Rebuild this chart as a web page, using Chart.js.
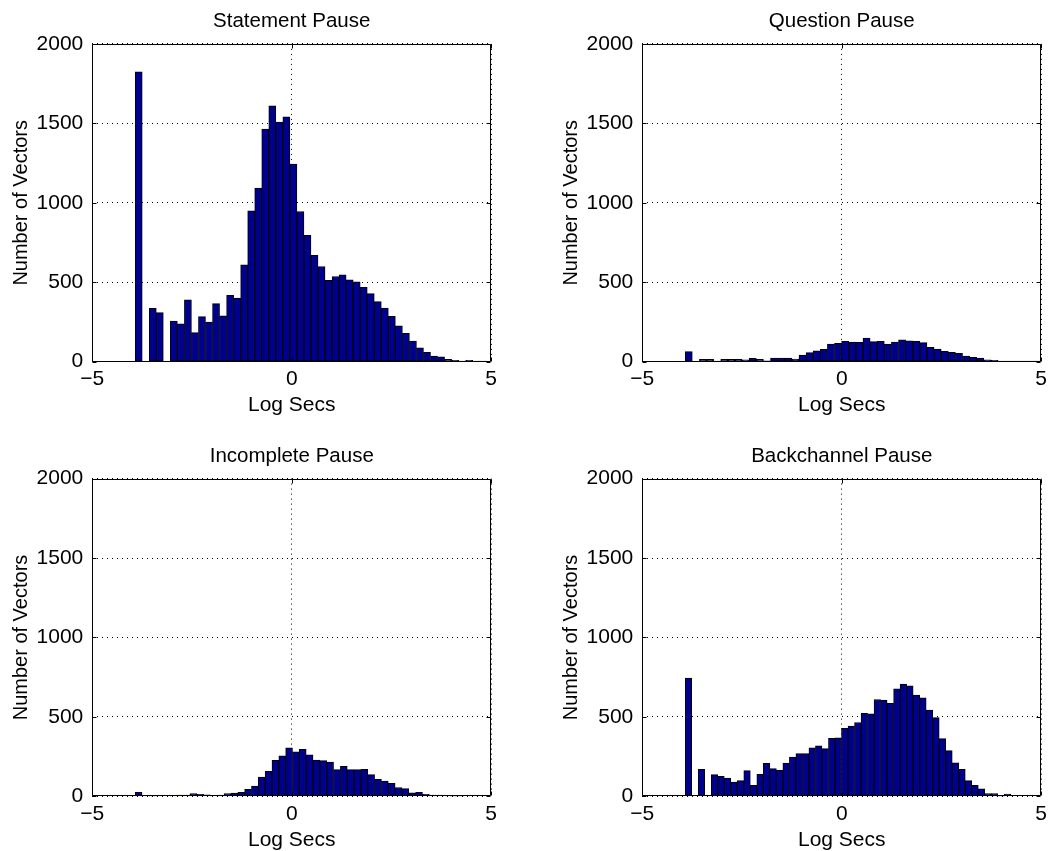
<!DOCTYPE html>
<html><head><meta charset="utf-8">
<script src="https://cdn.jsdelivr.net/npm/chart.js@4.4.1/dist/chart.umd.min.js"></script>
<style>
html,body{margin:0;padding:0;background:#fff;overflow:hidden;width:1052px;height:851px;}
canvas.cv{position:absolute;}
</style></head><body>
<canvas id="c0" class="cv" width="502" height="420" style="left:0px;top:0px"></canvas>
<canvas id="c1" class="cv" width="502" height="420" style="left:550px;top:0px"></canvas>
<canvas id="c2" class="cv" width="502" height="420" style="left:0px;top:435px"></canvas>
<canvas id="c3" class="cv" width="502" height="420" style="left:550px;top:435px"></canvas>
<script>
// ---- data ----
const panelTitles = ['Statement Pause', 'Question Pause', 'Incomplete Pause', 'Backchannel Pause'];
const xAxisTitle = 'Log Secs';
const yAxisTitle = 'Number of Vectors';
const xTickValues = [-5, 0, 5];
const yTickValues = [0, 500, 1000, 1500, 2000];
const binLeftEdge = -3.925;           // left edge of first bin (Log Secs)
const binWidths = [0.1763, 0.1783, 0.1715, 0.1633]; // per panel bin width
const statementCounts = [1825, 0, 336, 309, 0, 256, 239, 389, 183, 284, 250, 365, 288, 418, 401, 609, 949, 1092, 1464, 1611, 1508, 1541, 1243, 945, 796, 670, 599, 512, 536, 546, 515, 502, 468, 428, 378, 338, 286, 225, 179, 130, 88, 59, 36, 30, 15, 9, 4, 9, 2, 2];
const questionCounts = [63, 0, 15, 15, 2, 15, 15, 15, 12, 21, 15, 6, 23, 23, 23, 17, 42, 57, 69, 78, 111, 116, 128, 124, 122, 149, 126, 128, 111, 124, 137, 132, 128, 120, 91, 80, 65, 59, 53, 36, 28, 23, 11, 8, 3, 3, 3, 2, 2, 2];
const incompleteCounts = [25, 4, 2, 4, 0, 4, 8, 8, 17, 13, 10, 4, 8, 17, 21, 25, 44, 65, 122, 158, 227, 256, 305, 280, 296, 261, 228, 225, 216, 169, 190, 168, 168, 170, 137, 108, 97, 82, 56, 49, 23, 26, 13, 9, 8, 4, 2, 2, 0, 0];
const backchannelCounts = [745, 0, 170, 0, 137, 126, 116, 90, 99, 162, 69, 139, 208, 175, 166, 210, 248, 269, 269, 305, 318, 301, 366, 368, 429, 442, 465, 522, 519, 610, 606, 585, 677, 707, 696, 637, 620, 543, 496, 364, 288, 212, 170, 99, 69, 48, 17, 17, 2, 15];
const panelCounts = [statementCounts, questionCounts, incompleteCounts, backchannelCounts];

// ---- styling ----
const FONT = "'Liberation Sans', Arial, Helvetica, sans-serif";
const BAR_FILL = '#00008F';
const fmt = v => (v < 0 ? '\u2212' + Math.abs(v) : String(v));

const framePlugin = {
  id: 'frame',
  afterDatasetsDraw(chart) {
    const {ctx, chartArea: a, scales} = chart;
    const L = Math.round(a.left) + 0.5, R = Math.round(a.right) - 0.5;
    const T = Math.round(a.top) + 0.5, B = Math.round(a.bottom) - 0.5;
    ctx.save();
    ctx.strokeStyle = '#000';
    ctx.lineWidth = 1;
    ctx.beginPath();
    ctx.rect(L, T, R - L, B - T);
    const tl = 4;
    yTickValues.forEach(v => {
      const y = Math.round(scales.y.getPixelForValue(v)) + 0.5;
      ctx.moveTo(L, y); ctx.lineTo(L + tl, y);
      ctx.moveTo(R, y); ctx.lineTo(R - tl, y);
    });
    xTickValues.forEach(v => {
      const x = Math.round(scales.x.getPixelForValue(v)) + 0.5;
      ctx.moveTo(x, B); ctx.lineTo(x, B - tl);
      ctx.moveTo(x, T); ctx.lineTo(x, T + tl);
    });
    ctx.stroke();
    ctx.restore();
  }
};

function makePanel(idx, padBottom, titlePadBottom) {
  const counts = panelCounts[idx];
  const w = binWidths[idx];
  const pts = counts.map((c, i) => ({x: binLeftEdge + w * (i + 0.5), y: c}));
  new Chart(document.getElementById('c' + idx), {
    type: 'bar',
    data: {datasets: [{
      data: pts,
      backgroundColor: BAR_FILL,
      borderColor: '#000',
      borderWidth: 1,
      borderSkipped: false,
      barPercentage: 1,
      categoryPercentage: 1,
      grouped: false
    }]},
    options: {
      responsive: false,
      animation: false,
      devicePixelRatio: 1,
      events: [],
      layout: {padding: {left: 0, right: 10, top: 0, bottom: padBottom}},
      plugins: {
        legend: {display: false},
        tooltip: {enabled: false},
        title: {
          display: true, text: panelTitles[idx], color: '#000', fullSize: false,
          font: {family: FONT, size: 20.5, weight: 'normal'},
          padding: {top: 8.6, bottom: titlePadBottom}
        }
      },
      scales: {
        x: {
          type: 'linear', min: -5, max: 5, offset: false,
          afterBuildTicks: s => { s.ticks = xTickValues.map(v => ({value: v})); },
          ticks: {color: '#000', font: {family: FONT, size: 21}, padding: 5, maxRotation: 0, callback: fmt},
          grid: {offset: false, drawTicks: false, color: '#000', lineWidth: 1},
          border: {display: false, dash: [1, 4]},
          title: {display: true, text: xAxisTitle, color: '#000', font: {family: FONT, size: 21}, padding: {top: 0, bottom: 0}},
          afterFit: s => { s.height = 56.6; }
        },
        y: {
          type: 'linear', min: 0, max: 2000, beginAtZero: true,
          afterBuildTicks: s => { s.ticks = yTickValues.map(v => ({value: v})); },
          ticks: {color: '#000', font: {family: FONT, size: 21}, padding: 9, callback: fmt},
          grid: {drawTicks: false, color: '#000', lineWidth: 1},
          border: {display: false, dash: [1, 4]},
          title: {display: true, text: yAxisTitle, color: '#000', font: {family: FONT, size: 20}, padding: {top: 9.5, bottom: 0}},
          afterFit: s => { s.width = 92.3; }
        }
      }
    },
    plugins: [framePlugin]
  });
}

makePanel(0, 1.7, 10.7);
makePanel(1, 1.7, 10.7);
makePanel(2, 2.0, 10.4);
makePanel(3, 2.0, 10.4);
</script>
</body></html>
